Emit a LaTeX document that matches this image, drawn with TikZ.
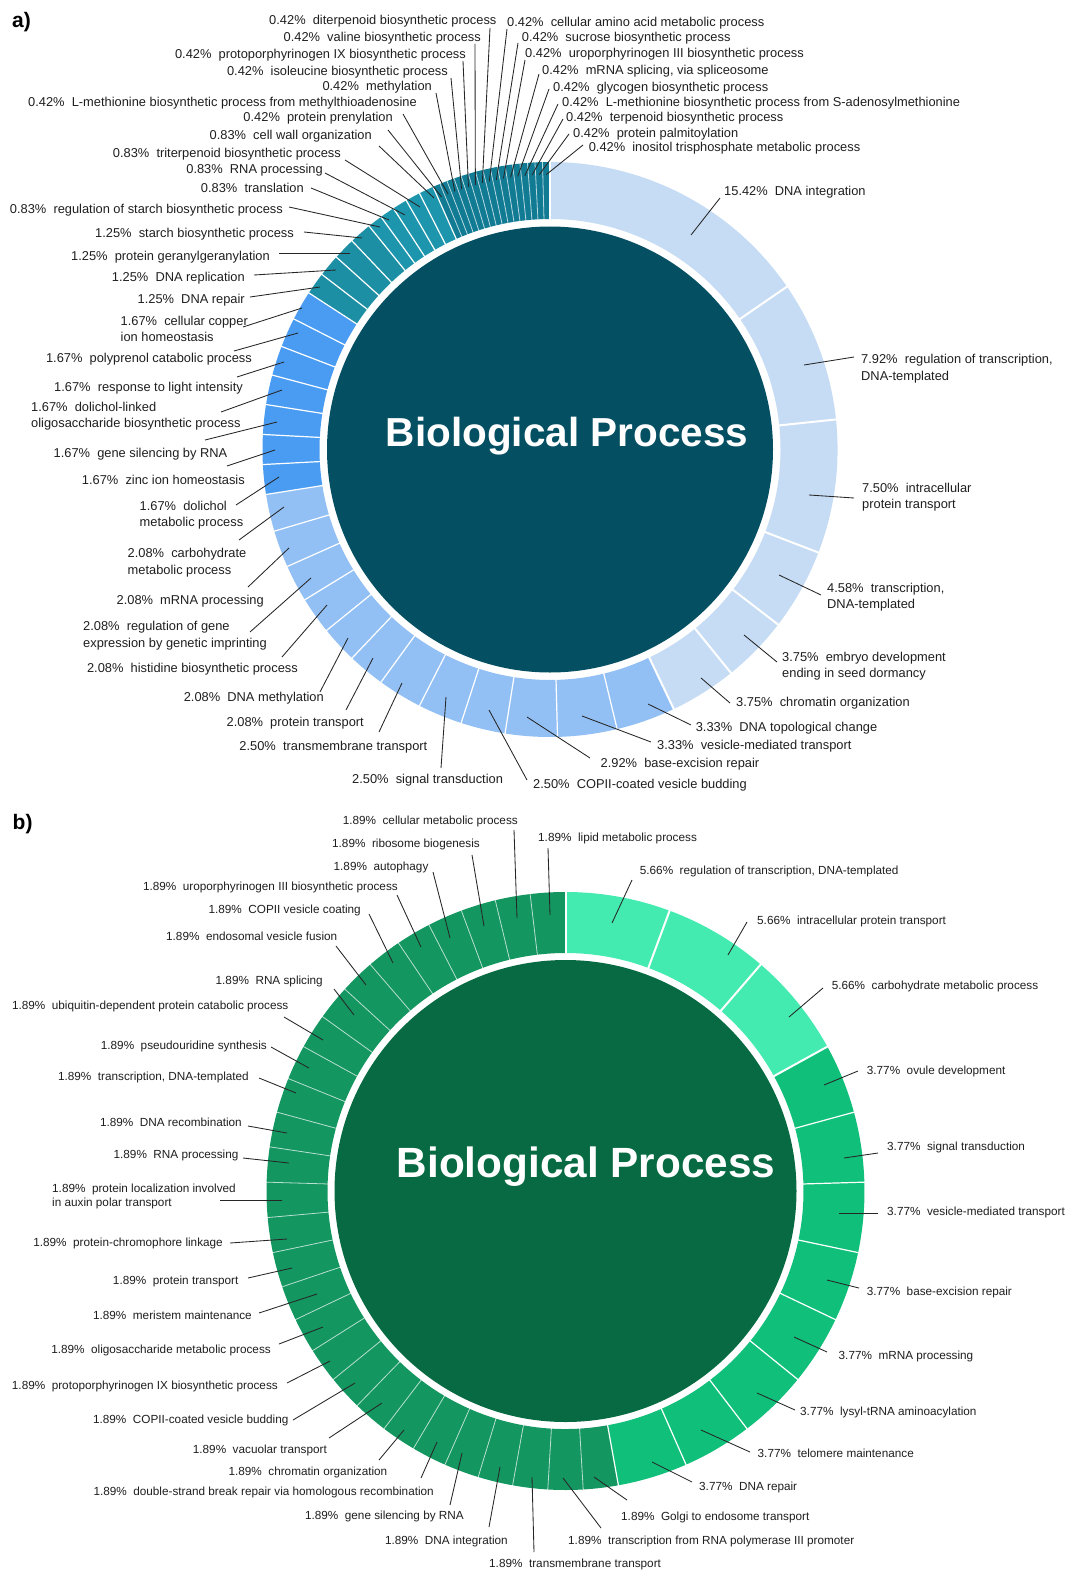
\documentclass[tikz,border=0pt]{standalone}
\usepackage{fontspec}
\setmainfont{Liberation Sans}
\usetikzlibrary{calc}

% ring colours, chart a (blue) and chart b (green)
\definecolor{aL}{HTML}{C6DCF5}
\definecolor{aM}{HTML}{93C0F4}
\definecolor{aB}{HTML}{4A9BF2}
\definecolor{aT}{HTML}{1D8FA4}
\definecolor{aU}{HTML}{1D96AD}
\definecolor{aD}{HTML}{127B94}
\definecolor{aC}{HTML}{054F63}
\definecolor{bL}{HTML}{44EBB0}
\definecolor{bM}{HTML}{10C07A}
\definecolor{bD}{HTML}{139660}
\definecolor{bC}{HTML}{076A42}

% percentage followed by a double gap
\newcommand\pc[1]{#1\%\hspace{0.556em}}

\tikzset{
  la/.style={font=\fontsize{12.85}{15}\selectfont, inner sep=0pt, text=black!88},
  lb/.style={font=\fontsize{11.75}{14}\selectfont, inner sep=0pt, text=black!88},
  lead/.style={draw=black!85, line width=0.85pt},
  sepwide/.style={draw=white, line width=2pt},
  sepmid/.style={draw=white, line width=1.2pt},
  septhin/.style={draw=white, line width=0.8pt, draw opacity=0.7},
  ttl/.style={font=\fontsize{#1}{48}\selectfont\bfseries, text=white, inner sep=0pt, anchor=base},
  tag/.style={font=\fontsize{21}{24}\selectfont\bfseries, inner sep=0pt, anchor=base west},
}

% annular sector: centre, inner radius, outer radius, from angle, to angle, colour
\newcommand\seg[6]{%
  \fill[#6] ($(#1)+({#4}:#2)$) arc[start angle={#4}, end angle={#5}, radius=#2]
    -- ($(#1)+({#5}:#3)$) arc[start angle={#5}, end angle={#4}, radius=#3] -- cycle;}

% label with leader: name, node options, text position, text, ring point, line end
\newcommand\lab[6]{%
  \node[#2] (#1) at (#3) {#4};
  \coordinate (#1-r) at (#5);
  \coordinate (#1-e) at (#6);
  \draw[lead] (#1-r) -- (#1-e);}

% second line of a label: style, label name, line distance, text
\newcommand\nextline[4]{\node[#1, anchor=base west] (#2-2) at ($(#2.base west)+(0,#3)$) {#4};}

\begin{document}
\begin{tikzpicture}[x=1pt, y=1pt, yscale=-1]
\fill[white] (0,0) rectangle (1067,1570);
\useasboundingbox (0,0) rectangle (1067,1570);

% ================= chart a =================
\coordinate (ca) at (550,449.5);
\seg{ca}{230.5}{287.5}{-90}{64.5}{aL}
\seg{ca}{230.5}{287.5}{64.5}{171}{aM}
\seg{ca}{230.5}{287.5}{171}{213}{aB}
\seg{ca}{230.5}{287.5}{213}{231}{aT}
\seg{ca}{230.5}{287.5}{231}{246}{aU}
\seg{ca}{230.5}{287.5}{246}{270}{aD}
\foreach \b in {0,37,56,74,85,94,103}
  \draw[sepwide] ($(ca)+({1.5*\b-90}:229)$) -- ($(ca)+({1.5*\b-90}:289)$);
\foreach \b in {111,119,126,132,138,144,149,154,159,164,169,174,178,182,186,190,194,198,202,205,208,211,214,216,218,220,222,224}
  \draw[sepmid] ($(ca)+({1.5*\b-90}:229)$) -- ($(ca)+({1.5*\b-90}:289)$);
\foreach \b in {225,...,239}
  \draw[septhin] ($(ca)+({1.5*\b-90}:229)$) -- ($(ca)+({1.5*\b-90}:289)$);
\fill[aC] (ca) circle[radius=223];
\node[ttl=40.5] (titleA) at (567,446.7) {Biological Process};
\node[tag] (tagA) at (12,27.5) {a)};

\lab{a1}{la,anchor=base west}{724,195.5}{\pc{15.42}DNA integration}{691,235}{720,198}
\lab{a2}{la,anchor=base west}{861,363.8}{\pc{7.92}regulation of transcription,}{804,365}{854,357}
\nextline{la}{a2}{16.4}{DNA-templated}
\lab{a3}{la,anchor=base west}{862,492.2}{\pc{7.50}intracellular}{809,495}{854,498}
\nextline{la}{a3}{16.6}{protein transport}
\lab{a4}{la,anchor=base west}{827,592.2}{\pc{4.58}transcription,}{779,575}{821,595}
\nextline{la}{a4}{15.8}{DNA-templated}
\lab{a5}{la,anchor=base west}{782,661.2}{\pc{3.75}embryo development}{744,635}{777,662}
\nextline{la}{a5}{16}{ending in seed dormancy}
\lab{a6}{la,anchor=base west}{736,706.8}{\pc{3.75}chromatin organization}{701,678}{730,703}
\lab{a7}{la,anchor=base west}{695.6,731.2}{\pc{3.33}DNA topological change}{648,704}{691,725}
\lab{a8}{la,anchor=base west}{657,749.5}{\pc{3.33}vesicle-mediated transport}{582,716}{651,742}
\lab{a9}{la,anchor=base west}{600.5,767.8}{\pc{2.92}base-excision repair}{527,717}{590,758}
\lab{a10}{la,anchor=base west}{533,788.8}{\pc{2.50}COPII-coated vesicle budding}{489,710}{527,780}
\lab{a11}{la,anchor=base west}{352,783.5}{\pc{2.50}signal transduction}{446,697}{441,768}
\lab{a12}{la,anchor=base east}{427.5,750.2}{\pc{2.50}transmembrane transport}{402,683}{379,732}
\lab{a13}{la,anchor=base east}{364,726.2}{\pc{2.08}protein transport}{373,658}{346,710}
\lab{a14}{la,anchor=base east}{324,701.8}{\pc{2.08}DNA methylation}{348,638}{320,692}
\lab{a15}{la,anchor=base east}{298,672.2}{\pc{2.08}histidine biosynthetic process}{327,605}{282,657}
\lab{a16}{la,anchor=base west}{83,630.5}{\pc{2.08}regulation of gene}{311,578}{250,632}
\nextline{la}{a16}{17}{expression by genetic imprinting}
\lab{a17}{la,anchor=base east}{264,604.5}{\pc{2.08}mRNA processing}{289,548}{248,587}
\lab{a18}{la,anchor=base west}{127.5,557.8}{\pc{2.08}carbohydrate}{284,507}{239,540}
\nextline{la}{a18}{16.5}{metabolic process}
\lab{a19}{la,anchor=base west}{139.5,510.5}{\pc{1.67}dolichol}{279,477}{236,505}
\nextline{la}{a19}{15.8}{metabolic process}
\lab{a20}{la,anchor=base east}{245,484.5}{\pc{1.67}zinc ion homeostasis}{275,450}{227,466}
\lab{a21}{la,anchor=base east}{227.5,457.8}{\pc{1.67}gene silencing by RNA}{277,422}{205,440}
\lab{a22}{la,anchor=base west}{31,411.8}{\pc{1.67}dolichol-linked}{282,390}{221,412}
\nextline{la}{a22}{16}{oligosaccharide biosynthetic process}
\lab{a23}{la,anchor=base east}{243,391.8}{\pc{1.67}response to light intensity}{284,362}{237,377}
\lab{a24}{la,anchor=base east}{252,362.8}{\pc{1.67}polyprenol catabolic process}{298,333}{234,351}
\lab{a25}{la,anchor=base west}{120.5,325.5}{\pc{1.67}cellular copper}{302,308}{243,327}
\nextline{la}{a25}{15.5}{ion homeostasis}
\lab{a26}{la,anchor=base east}{245,303.8}{\pc{1.25}DNA repair}{320,287}{250,297}
\lab{a27}{la,anchor=base east}{245,281.8}{\pc{1.25}DNA replication}{336,270}{254,275}
\lab{a28}{la,anchor=base east}{270,260.2}{\pc{1.25}protein geranylgeranylation}{350,253}{279,253}
\lab{a29}{la,anchor=base east}{294,237.2}{\pc{1.25}starch biosynthetic process}{362,238}{304,232}
\lab{a30}{la,anchor=base east}{283,213.5}{\pc{0.83}regulation of starch biosynthetic process}{380,227}{289,207}
\lab{a31}{la,anchor=base east}{304,192.2}{\pc{0.83}translation}{389,220}{311,188}
\lab{a32}{la,anchor=base east}{323,173.8}{\pc{0.83}RNA processing}{405,215}{325,173}
\lab{a33}{la,anchor=base east}{341,157.8}{\pc{0.83}triterpenoid biosynthetic process}{420,207}{345,160}
\lab{a34}{la,anchor=base east}{372,139.5}{\pc{0.83}cell wall organization}{434,198}{379,146}
\lab{a35}{la,anchor=base east}{393,121.8}{\pc{0.42}protein prenylation}{$(ca)+(246.75:275)$}{388,130}
\lab{a36}{la,anchor=base east}{417,106.2}{\pc{0.42}L-methionine biosynthetic process from methylthioadenosine}{$(ca)+(248.25:275)$}{403,114}
\lab{a37}{la,anchor=base east}{432,90.5}{\pc{0.42}methylation}{$(ca)+(249.75:275)$}{436,93}
\lab{a38}{la,anchor=base east}{448,75.5}{\pc{0.42}isoleucine biosynthetic process}{$(ca)+(251.25:275)$}{451,78}
\lab{a39}{la,anchor=base east}{466,58.8}{\pc{0.42}protoporphyrinogen IX biosynthetic process}{$(ca)+(252.75:275)$}{463,61}
\lab{a40}{la,anchor=base east}{481,41.8}{\pc{0.42}valine biosynthetic process}{$(ca)+(254.25:275)$}{475,44}
\lab{a41}{la,anchor=base east}{496.6,24.5}{\pc{0.42}diterpenoid biosynthetic process}{$(ca)+(255.75:275)$}{490,28}
\lab{a42}{la,anchor=base west}{507,26.2}{\pc{0.42}cellular amino acid metabolic process}{$(ca)+(257.25:275)$}{507,29}
\lab{a43}{la,anchor=base west}{521.7,41.8}{\pc{0.42}sucrose biosynthetic process}{$(ca)+(258.75:275)$}{518,43}
\lab{a44}{la,anchor=base west}{525,57.8}{\pc{0.42}uroporphyrinogen III biosynthetic process}{$(ca)+(260.25:275)$}{525,60}
\lab{a45}{la,anchor=base west}{542,74.5}{\pc{0.42}mRNA splicing, via spliceosome}{$(ca)+(261.75:275)$}{539,74}
\lab{a46}{la,anchor=base west}{553,91.2}{\pc{0.42}glycogen biosynthetic process}{$(ca)+(263.25:275)$}{549,89}
\lab{a47}{la,anchor=base west}{562,106.2}{\pc{0.42}L-methionine biosynthetic process from S-adenosylmethionine}{$(ca)+(264.75:275)$}{558,104}
\lab{a48}{la,anchor=base west}{566,121.2}{\pc{0.42}terpenoid biosynthetic process}{$(ca)+(266.25:275)$}{563,119}
\lab{a49}{la,anchor=base west}{573,137.2}{\pc{0.42}protein palmitoylation}{$(ca)+(267.75:275)$}{569,134}
\lab{a50}{la,anchor=base west}{588.6,151.2}{\pc{0.42}inositol trisphosphate metabolic process}{$(ca)+(269.25:275)$}{583,145}

% ================= chart b =================
\coordinate (cb) at (565.5,1191);
\seg{cb}{238}{299}{-90}{360/53*9-90}{bL}
\seg{cb}{238}{299}{360/53*9-90}{360/53*25-90}{bM}
\seg{cb}{238}{299}{360/53*25-90}{270}{bD}
\foreach \b in {0,3,6,9}
  \draw[sepwide] ($(cb)+({360/53*\b-90}:237)$) -- ($(cb)+({360/53*\b-90}:300)$);
\foreach \b in {11,13,...,25}
  \draw[sepmid] ($(cb)+({360/53*\b-90}:237)$) -- ($(cb)+({360/53*\b-90}:300)$);
\foreach \b in {26,...,52}
  \draw[septhin] ($(cb)+({360/53*\b-90}:237)$) -- ($(cb)+({360/53*\b-90}:300)$);
\fill[bC] (cb) circle[radius=231];
\node[ttl=42.3] (titleB) at (586,1177.5) {Biological Process};
\node[tag] (tagB) at (12.5,829) {b)};

\lab{b1}{lb,anchor=base west}{639.7,874.2}{\pc{5.66}regulation of transcription, DNA-templated}{612,923}{632,880}
\lab{b2}{lb,anchor=base west}{757,924.2}{\pc{5.66}intracellular protein transport}{728,955}{747,922}
\lab{b3}{lb,anchor=base west}{831.6,989.2}{\pc{5.66}carbohydrate metabolic process}{789,1017}{823,988}
\lab{b4}{lb,anchor=base west}{866.7,1074.9}{\pc{3.77}ovule development}{824,1085}{858,1071}
\lab{b5}{lb,anchor=base west}{887,1150.9}{\pc{3.77}signal transduction}{844,1158}{878,1153}
\lab{b6}{lb,anchor=base west}{887,1215.9}{\pc{3.77}vesicle-mediated transport}{839,1213}{878,1213}
\lab{b7}{lb,anchor=base west}{866.7,1295.2}{\pc{3.77}base-excision repair}{827,1280}{859,1288}
\lab{b8}{lb,anchor=base west}{838.5,1359.9}{\pc{3.77}mRNA processing}{794,1337}{827,1352}
\lab{b9}{lb,anchor=base west}{800,1415.9}{\pc{3.77}lysyl-tRNA aminoacylation}{757,1393}{795,1410}
\lab{b10}{lb,anchor=base west}{757.5,1457.5}{\pc{3.77}telomere maintenance}{701,1430}{750,1452}
\lab{b11}{lb,anchor=base west}{699,1490.9}{\pc{3.77}DNA repair}{652,1462}{692,1482}
\lab{b12}{lb,anchor=base west}{621,1520.2}{\pc{1.89}Golgi to endosome transport}{594,1477}{627,1500}
\lab{b13}{lb,anchor=base west}{568,1544.2}{\pc{1.89}transcription from RNA polymerase III promoter}{563,1478}{601,1528}
\lab{b14}{lb,anchor=base west}{489,1567}{\pc{1.89}transmembrane transport}{532,1477}{534,1552}
\lab{b15}{lb,anchor=base east}{508,1544.9}{\pc{1.89}DNA integration}{500,1467}{489,1527}
\lab{b16}{lb,anchor=base east}{464,1519.9}{\pc{1.89}gene silencing by RNA}{462,1453}{450,1505}
\lab{b17}{lb,anchor=base east}{434,1495.9}{\pc{1.89}double-strand break repair via homologous recombination}{437,1442}{421,1478}
\lab{b18}{lb,anchor=base east}{387.5,1475.9}{\pc{1.89}chromatin organization}{404,1430}{379,1460}
\lab{b19}{lb,anchor=base east}{327,1453.5}{\pc{1.89}vacuolar transport}{382,1403}{329,1438}
\lab{b20}{lb,anchor=base east}{288.6,1423.5}{\pc{1.89}COPII-coated vesicle budding}{355,1383}{293,1420}
\lab{b21}{lb,anchor=base east}{278,1389.2}{\pc{1.89}protoporphyrinogen IX biosynthetic process}{330,1361}{287,1383}
\lab{b22}{lb,anchor=base east}{271,1353.2}{\pc{1.89}oligosaccharide metabolic process}{323,1327}{279,1344}
\lab{b23}{lb,anchor=base east}{252,1319.2}{\pc{1.89}meristem maintenance}{317,1294}{259,1313}
\lab{b24}{lb,anchor=base east}{238.6,1284.9}{\pc{1.89}protein transport}{292,1268}{248,1278}
\lab{b25}{lb,anchor=base east}{223,1246.5}{\pc{1.89}protein-chromophore linkage}{287,1239}{230,1243}
\lab{b26}{lb,anchor=base west}{52,1192.5}{\pc{1.89}protein localization involved}{282,1200}{220,1200}
\nextline{lb}{b26}{14.4}{in auxin polar transport}
\lab{b27}{lb,anchor=base east}{238.6,1158.5}{\pc{1.89}RNA processing}{289,1163}{243,1158}
\lab{b28}{lb,anchor=base east}{242,1126.5}{\pc{1.89}DNA recombination}{287,1133}{248,1126}
\lab{b29}{lb,anchor=base east}{249,1080.2}{\pc{1.89}transcription, DNA-templated}{296,1093}{259,1078}
\lab{b30}{lb,anchor=base east}{267,1049.2}{\pc{1.89}pseudouridine synthesis}{309,1068}{271,1047}
\lab{b31}{lb,anchor=base east}{288.6,1009.2}{\pc{1.89}ubiquitin-dependent protein catabolic process}{323,1040}{284,1017}
\lab{b32}{lb,anchor=base east}{323,984.2}{\pc{1.89}RNA splicing}{354,1015}{334,989}
\lab{b33}{lb,anchor=base east}{337.5,940.9}{\pc{1.89}endosomal vesicle fusion}{366,985}{336,946}
\lab{b34}{lb,anchor=base east}{361,913.5}{\pc{1.89}COPII vesicle coating}{393,963}{369,914}
\lab{b35}{lb,anchor=base east}{398,890.2}{\pc{1.89}uroporphyrinogen III biosynthetic process}{421,947}{397,895}
\lab{b36}{lb,anchor=base east}{428.6,870.9}{\pc{1.89}autophagy}{450,938}{433,872}
\lab{b37}{lb,anchor=base east}{480,847.5}{\pc{1.89}ribosome biogenesis}{484,926}{472,855}
\lab{b38}{lb,anchor=base east}{518,824.2}{\pc{1.89}cellular metabolic process}{517,918}{514,830}
\lab{b39}{lb,anchor=base west}{538,841.9}{\pc{1.89}lipid metabolic process}{550,915}{548,848}
\end{tikzpicture}
\end{document}
